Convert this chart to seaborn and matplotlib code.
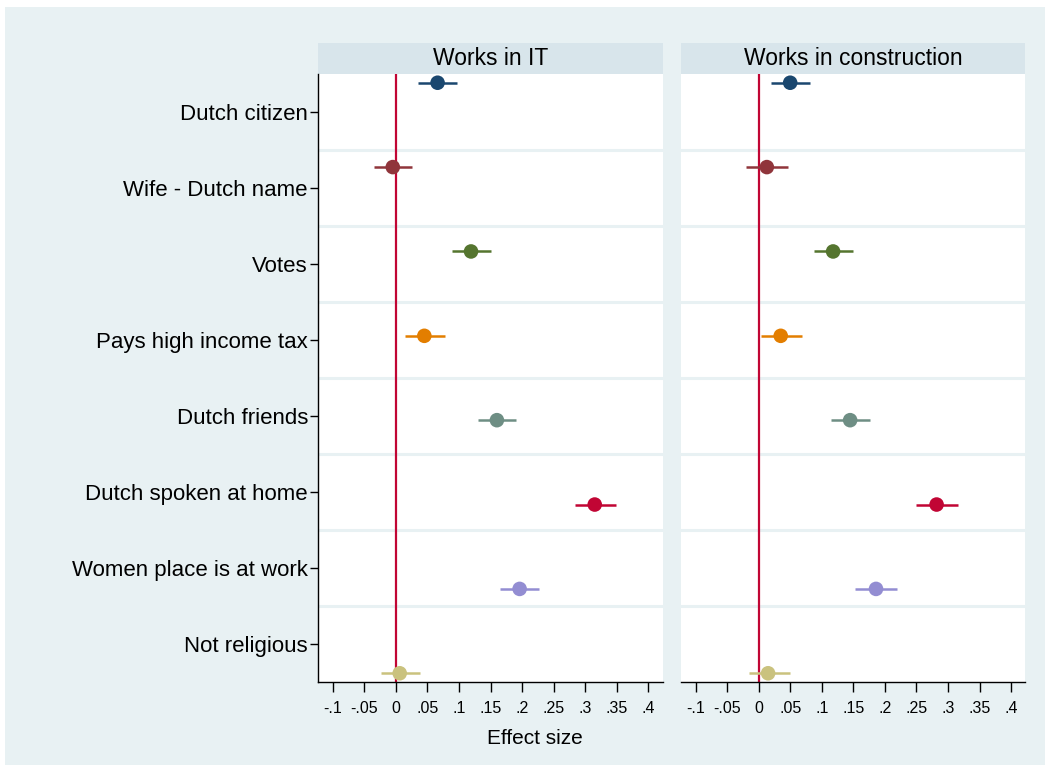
import matplotlib
matplotlib.use("Agg")
import matplotlib.pyplot as plt
from matplotlib.patches import Rectangle
import numpy as np
import pandas as pd
import seaborn as sns

# Coefficients and 95% confidence bounds per characteristic
categories = [
    "Dutch citizen",
    "Wife - Dutch name",
    "Votes",
    "Pays high income tax",
    "Dutch friends",
    "Dutch spoken at home",
    "Women place is at work",
    "Not religious",
]
panels = ["Works in IT", "Works in construction"]

it_est = [0.066, -0.005, 0.119, 0.045, 0.160, 0.315, 0.196, 0.006]
it_lo = [0.035, -0.035, 0.089, 0.015, 0.130, 0.284, 0.165, -0.024]
it_hi = [0.097, 0.025, 0.150, 0.077, 0.191, 0.349, 0.227, 0.038]

con_est = [0.050, 0.013, 0.118, 0.035, 0.145, 0.282, 0.186, 0.015]
con_lo = [0.020, -0.020, 0.087, 0.003, 0.114, 0.250, 0.153, -0.016]
con_hi = [0.081, 0.046, 0.150, 0.068, 0.177, 0.316, 0.220, 0.050]

x_ticks = [-0.1, -0.05, 0, 0.05, 0.1, 0.15, 0.2, 0.25, 0.3, 0.35, 0.4]
x_ticklabels = ["-.1", "-.05", "0", ".05", ".1", ".15", ".2", ".25", ".3", ".35", ".4"]

colors = ["#1a476f", "#90353b", "#55752f", "#e37e00",
          "#6e8e84", "#c10534", "#938dd2", "#cac27e"]

BG = "#e8f1f3"
STRIP = "#d8e5eb"

sns.set_theme(style="white")
plt.rcParams["font.family"] = ["Liberation Sans", "DejaVu Sans"]

frames = []
for panel, est, lo, hi in [(panels[0], it_est, it_lo, it_hi),
                           (panels[1], con_est, con_lo, con_hi)]:
    n = len(categories)
    idx = np.arange(n)
    frames.append(pd.DataFrame({
        "panel": panel,
        "category": categories,
        "est": est,
        "lo": lo,
        "hi": hi,
        # each series is shifted within its row, as in a multi-model coefplot
        "pos": idx + 1 + (idx - (n - 1) / 2) / 9.0,
    }))
df = pd.concat(frames, ignore_index=True)

W, H = 1050, 771
fig = plt.figure(figsize=(W / 100, H / 100), dpi=100, facecolor="white")
fig.patches.append(Rectangle((5 / W, 1 - 765 / H), 1040 / W, 758 / H,
                             transform=fig.transFigure, facecolor=BG,
                             edgecolor="none", zorder=-10))

ax_left_px = [318.3, 681.0]
ax_w_px = 344.4
ax_top_px, ax_bot_px = 74.3, 681.7
axes = []
for k, panel in enumerate(panels):
    ax = fig.add_axes([ax_left_px[k] / W, 1 - ax_bot_px / H,
                       ax_w_px / W, (ax_bot_px - ax_top_px) / H])
    ax.set_facecolor("white")
    sub = df[df["panel"] == panel]

    for g in np.arange(1.5, len(categories), 1.0):
        ax.axhline(g, color=BG, lw=2.2, zorder=0)
    ax.axvline(0, color="#c10534", lw=1.6, zorder=1)

    ax.hlines(sub["pos"], sub["lo"], sub["hi"], colors=colors, lw=1.8, zorder=2)
    sns.scatterplot(data=sub, x="est", y="pos", hue="category",
                    palette=colors, hue_order=categories, s=110,
                    edgecolor="none", legend=False, ax=ax, zorder=3)

    ax.set_xlim(-0.123, 0.4227)
    ax.set_ylim(len(categories) + 0.5, 0.5)
    ax.set_xticks(x_ticks)
    ax.set_xticklabels(x_ticklabels, fontsize=11.5)
    ax.tick_params(axis="x", bottom=True, length=7, width=1, color="black",
                   pad=7, labelcolor="black")
    ax.set_xlabel("")
    ax.set_ylabel("")

    for s in ["top", "right"]:
        ax.spines[s].set_visible(False)
    ax.spines["bottom"].set_color("black")
    ax.spines["bottom"].set_linewidth(1.0)
    if k == 0:
        ax.set_yticks(np.arange(1, len(categories) + 1))
        ax.set_yticklabels(categories, fontsize=16)
        ax.tick_params(axis="y", left=True, length=6, width=1, color="black",
                       pad=1.5, labelcolor="black")
        ax.spines["left"].set_color("black")
        ax.spines["left"].set_linewidth(1.0)
    else:
        ax.set_yticks([])
        ax.spines["left"].set_visible(False)

    strip_h = 31 / (ax_bot_px - ax_top_px)
    ax.add_patch(Rectangle((0, 1), 1, strip_h, transform=ax.transAxes,
                           facecolor=STRIP, edgecolor="none", clip_on=False))
    ax.text(0.5, 1 + strip_h / 2, panel, transform=ax.transAxes,
            ha="center", va="center", fontsize=16.5, color="black")
    axes.append(ax)

fig.text(535 / W, 1 - 738 / H, "Effect size", ha="center", va="center",
         fontsize=15, color="black")

fig.savefig("out.png", dpi=100, facecolor="white")
